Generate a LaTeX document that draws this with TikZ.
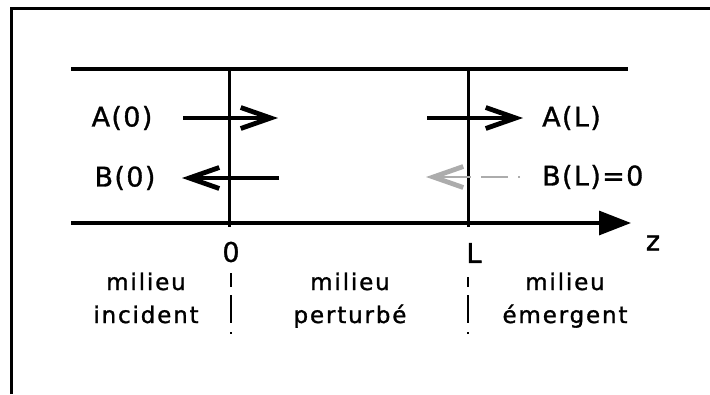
\documentclass[tikz,border=0pt]{standalone}
\usepackage{fontspec}
\setmainfont{DejaVu Sans}
\newfontfamily\upfont[LetterSpace=5,FakeBold=1.2]{DejaVu Sans}
\newfontfamily\lowfont[LetterSpace=8,FakeBold=1.2]{DejaVu Sans}
\usetikzlibrary{arrows.meta}
\begin{document}
\begin{tikzpicture}[x=1pt,y=-1pt,
  frameline/.style={line width=3pt},
  heavyline/.style={line width=3.2pt},
  wallline/.style={line width=3.2pt},
  barb/.tip={Straight Barb[length=30pt,width=21pt,line width=4.8pt]},
  wave/.style={line width=3.2pt,-barb},
  nullwave/.style={line width=2.6pt,gray!65,dash pattern=on 2.5pt off 10pt on 27pt off 10pt on 120pt,-barb},
  axisline/.style={line width=3.2pt,-{Triangle[length=32pt,width=24pt]}},
  biglabel/.style={font=\upfont\fontsize{27}{30}\selectfont,inner sep=0pt},
  smalllabel/.style={font=\lowfont\fontsize{23}{29}\selectfont,inner sep=0pt,align=center},
  sepline/.style={line width=2.8pt,dash pattern=on 14pt off 8pt on 28pt off 9pt on 2pt}]
\useasboundingbox (0,0) rectangle (710,394);
% frame
\coordinate (fbl) at (11,394);
\coordinate (ftl) at (11,8);
\coordinate (ftr) at (710,8);
\draw[frameline] (fbl) -- (ftl) -- (ftr);
% top guide line
\coordinate (tl) at (71,69);
\coordinate (tr) at (628,69);
\draw[heavyline] (tl) -- (tr);
% axis
\coordinate (al) at (71,223);
\coordinate (ar) at (631,223);
\draw[axisline] (al) -- (ar);
% walls
\coordinate (w0t) at (229.5,69);
\coordinate (w0b) at (229.5,227);
\coordinate (wLt) at (468.5,69);
\coordinate (wLb) at (468.5,227);
\draw[wallline] (w0t) -- (w0b);
\draw[wallline] (wLt) -- (wLb);
% separators
\coordinate (s0t) at (231,273);
\coordinate (s0b) at (231,334);
\coordinate (sLt) at (468,277);
\coordinate (sLb) at (468,334);
\draw[sepline] (s0t) -- (s0b);
\draw[sepline,dash pattern=on 10pt off 8pt on 28pt off 9pt on 2pt] (sLt) -- (sLb);
% waves
\coordinate (a0s) at (183,118);
\coordinate (a0e) at (278,118);
\coordinate (b0s) at (279,178);
\coordinate (b0e) at (182,178);
\coordinate (aLs) at (427,118);
\coordinate (aLe) at (523,118);
\coordinate (bLs) at (520,177);
\coordinate (bLe) at (426,177);
\draw[wave] (a0s) -- (a0e);
\draw[wave] (b0s) -- (b0e);
\draw[wave] (aLs) -- (aLe);
\draw[nullwave] (bLs) -- (bLe);
% labels
\node[biglabel] (A0) at (122,118) {A(0)};
\node[biglabel] (B0) at (125,178) {B(0)};
\node[biglabel,anchor=west] (AL) at (542,118) {A(L)};
\node[biglabel,anchor=west] (BL) at (542,177) {B(L)=0};
\node[biglabel] (zero) at (231,252) {0};
\node[biglabel] (Lab) at (474,253) {L};
\node[biglabel] (zlab) at (653,243) {z};
\node[smalllabel,anchor=base] (m1) at (146,290) {milieu};
\node[smalllabel,anchor=base] (m1b) at (146,323) {incident};
\node[smalllabel,anchor=base] (m2) at (350,290) {milieu};
\node[smalllabel,anchor=base] (m2b) at (350,323) {perturbé};
\node[smalllabel,anchor=base] (m3) at (565,290) {milieu};
\node[smalllabel,anchor=base] (m3b) at (565,323) {émergent};
\end{tikzpicture}
\end{document}
